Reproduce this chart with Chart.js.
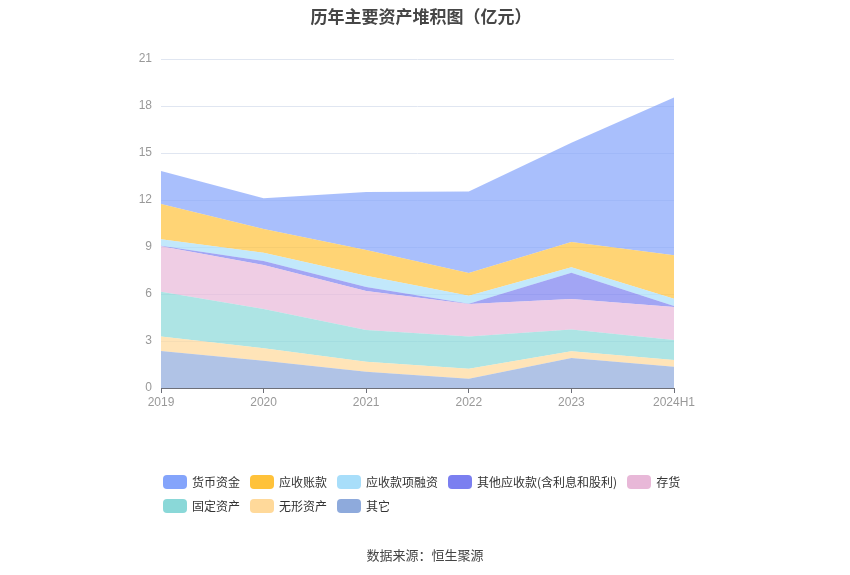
<!DOCTYPE html>
<html>
<head>
<meta charset="utf-8">
<script src="https://cdn.jsdelivr.net/npm/chart.js@4.4.1/dist/chart.umd.min.js"></script>
<style>
  body { margin: 0; background: #fff; font-family: "Noto Sans CJK SC", "Noto Sans", sans-serif; }
  #wrap { position: relative; width: 850px; height: 575px; }
  #title { position: absolute; left: 0; top: 3px; width: 842px; text-align: center; font-size: 17px; font-weight: bold; color: #464646; }
  #legend { position: absolute; left: 163px; top: 474px; width: 545px; display: flex; flex-wrap: wrap; row-gap: 9px; }
  .item { display: flex; align-items: center; margin-right: 10px; font-size: 12px; color: #333; height: 15px; }
  .box { width: 24px; height: 14px; border-radius: 4px; margin-right: 5px; }
  #source { position: absolute; left: 0; width: 850px; top: 545px; text-align: center; font-size: 13px; color: #444; }
</style>
</head>
<body>
<div id="wrap">
  <canvas id="assetChart"></canvas>
  <div id="title">历年主要资产堆积图（亿元）</div>
  <div id="legend"></div>
  <div id="source">数据来源：恒生聚源</div>
</div>
<script>
// 年份
const years = ['2019', '2020', '2021', '2022', '2023', '2024H1'];

// 各项资产（亿元），从下往上堆叠
const qita       = [2.36, 1.74, 1.04, 0.59, 1.91, 1.36]; // 其它
const wuxing     = [0.92, 0.79, 0.64, 0.64, 0.43, 0.43]; // 无形资产
const guding     = [2.87, 2.51, 2.02, 2.05, 1.40, 1.27]; // 固定资产
const cunhuo     = [2.89, 2.81, 2.49, 2.08, 1.94, 2.11]; // 存货
const qitaYingshou = [0.04, 0.26, 0.26, 0.02, 1.68, 0.06]; // 其他应收款(含利息和股利)
const rongzi     = [0.41, 0.53, 0.72, 0.51, 0.34, 0.47]; // 应收款项融资
const yingshou   = [2.25, 1.51, 1.64, 1.45, 1.62, 2.77]; // 应收账款
const huobi      = [2.11, 1.96, 3.70, 5.21, 6.34, 10.08]; // 货币资金

const yTicks = [0, 3, 6, 9, 12, 15, 18, 21];

// 图例顺序（与参考图一致）
const legendOrder = ['货币资金', '应收账款', '应收款项融资', '其他应收款(含利息和股利)', '存货', '固定资产', '无形资产', '其它'];

function rgba(hex, a) {
    const n = parseInt(hex.slice(1), 16);
    return 'rgba(' + (n >> 16) + ',' + ((n >> 8) & 255) + ',' + (n & 255) + ',' + a + ')';
}

const series = [
    { label: '其它', data: qita, color: '#8eaadc' },
    { label: '无形资产', data: wuxing, color: '#ffd99a' },
    { label: '固定资产', data: guding, color: '#8ad8d8' },
    { label: '存货', data: cunhuo, color: '#e8b8d8' },
    { label: '其他应收款(含利息和股利)', data: qitaYingshou, color: '#7b7ff0' },
    { label: '应收款项融资', data: rongzi, color: '#a8defa' },
    { label: '应收账款', data: yingshou, color: '#ffc23a' },
    { label: '货币资金', data: huobi, color: '#84a4fb' }
];

const datasets = series.map((s, i) => ({
    label: s.label,
    data: s.data,
    fill: i === 0 ? 'origin' : '-1',
    backgroundColor: rgba(s.color, 0.7),
    borderColor: rgba(s.color, 0.7),
    borderWidth: 0,
    pointRadius: 0,
    pointHoverRadius: 0,
    tension: 0
}));

const ctx = document.getElementById('assetChart');
const chart = new Chart(ctx, {
    type: 'line',
    data: { labels: years, datasets: datasets },
    options: {
        responsive: true,
        maintainAspectRatio: false,
        animation: false,
        layout: { padding: { left: 0, right: 176, top: 59, bottom: 0 } },
        interaction: { mode: 'index', intersect: false },
        plugins: {
            legend: { display: false },
            title: { display: false },
            tooltip: { enabled: true }
        },
        scales: {
            x: {
                stacked: true,
                offset: false,
                grid: { drawOnChartArea: false, drawTicks: true, tickLength: 5, color: '#6E7079' },
                border: { display: true, color: '#6E7079' },
                ticks: { color: '#999', font: { size: 12 }, padding: 2, maxRotation: 0, autoSkip: false },
                afterFit: s => { s.height = 187; }
            },
            y: {
                stacked: true,
                min: 0,
                max: 21,
                afterBuildTicks: s => { s.ticks = yTicks.map(v => ({ value: v })); },
                grid: { color: '#E0E6F1', drawTicks: false },
                border: { display: false },
                ticks: { color: '#999', font: { size: 12 }, padding: 9 },
                afterFit: s => { s.width = 161; }
            }
        }
    }
});

// HTML 图例
const legendEl = document.getElementById('legend');
legendOrder.forEach(name => {
    const s = series.find(x => x.label === name);
    const item = document.createElement('div');
    item.className = 'item';
    const box = document.createElement('span');
    box.className = 'box';
    box.style.background = s.color;
    const txt = document.createElement('span');
    txt.textContent = name;
    item.appendChild(box);
    item.appendChild(txt);
    legendEl.appendChild(item);
});
</script>
</body>
</html>
